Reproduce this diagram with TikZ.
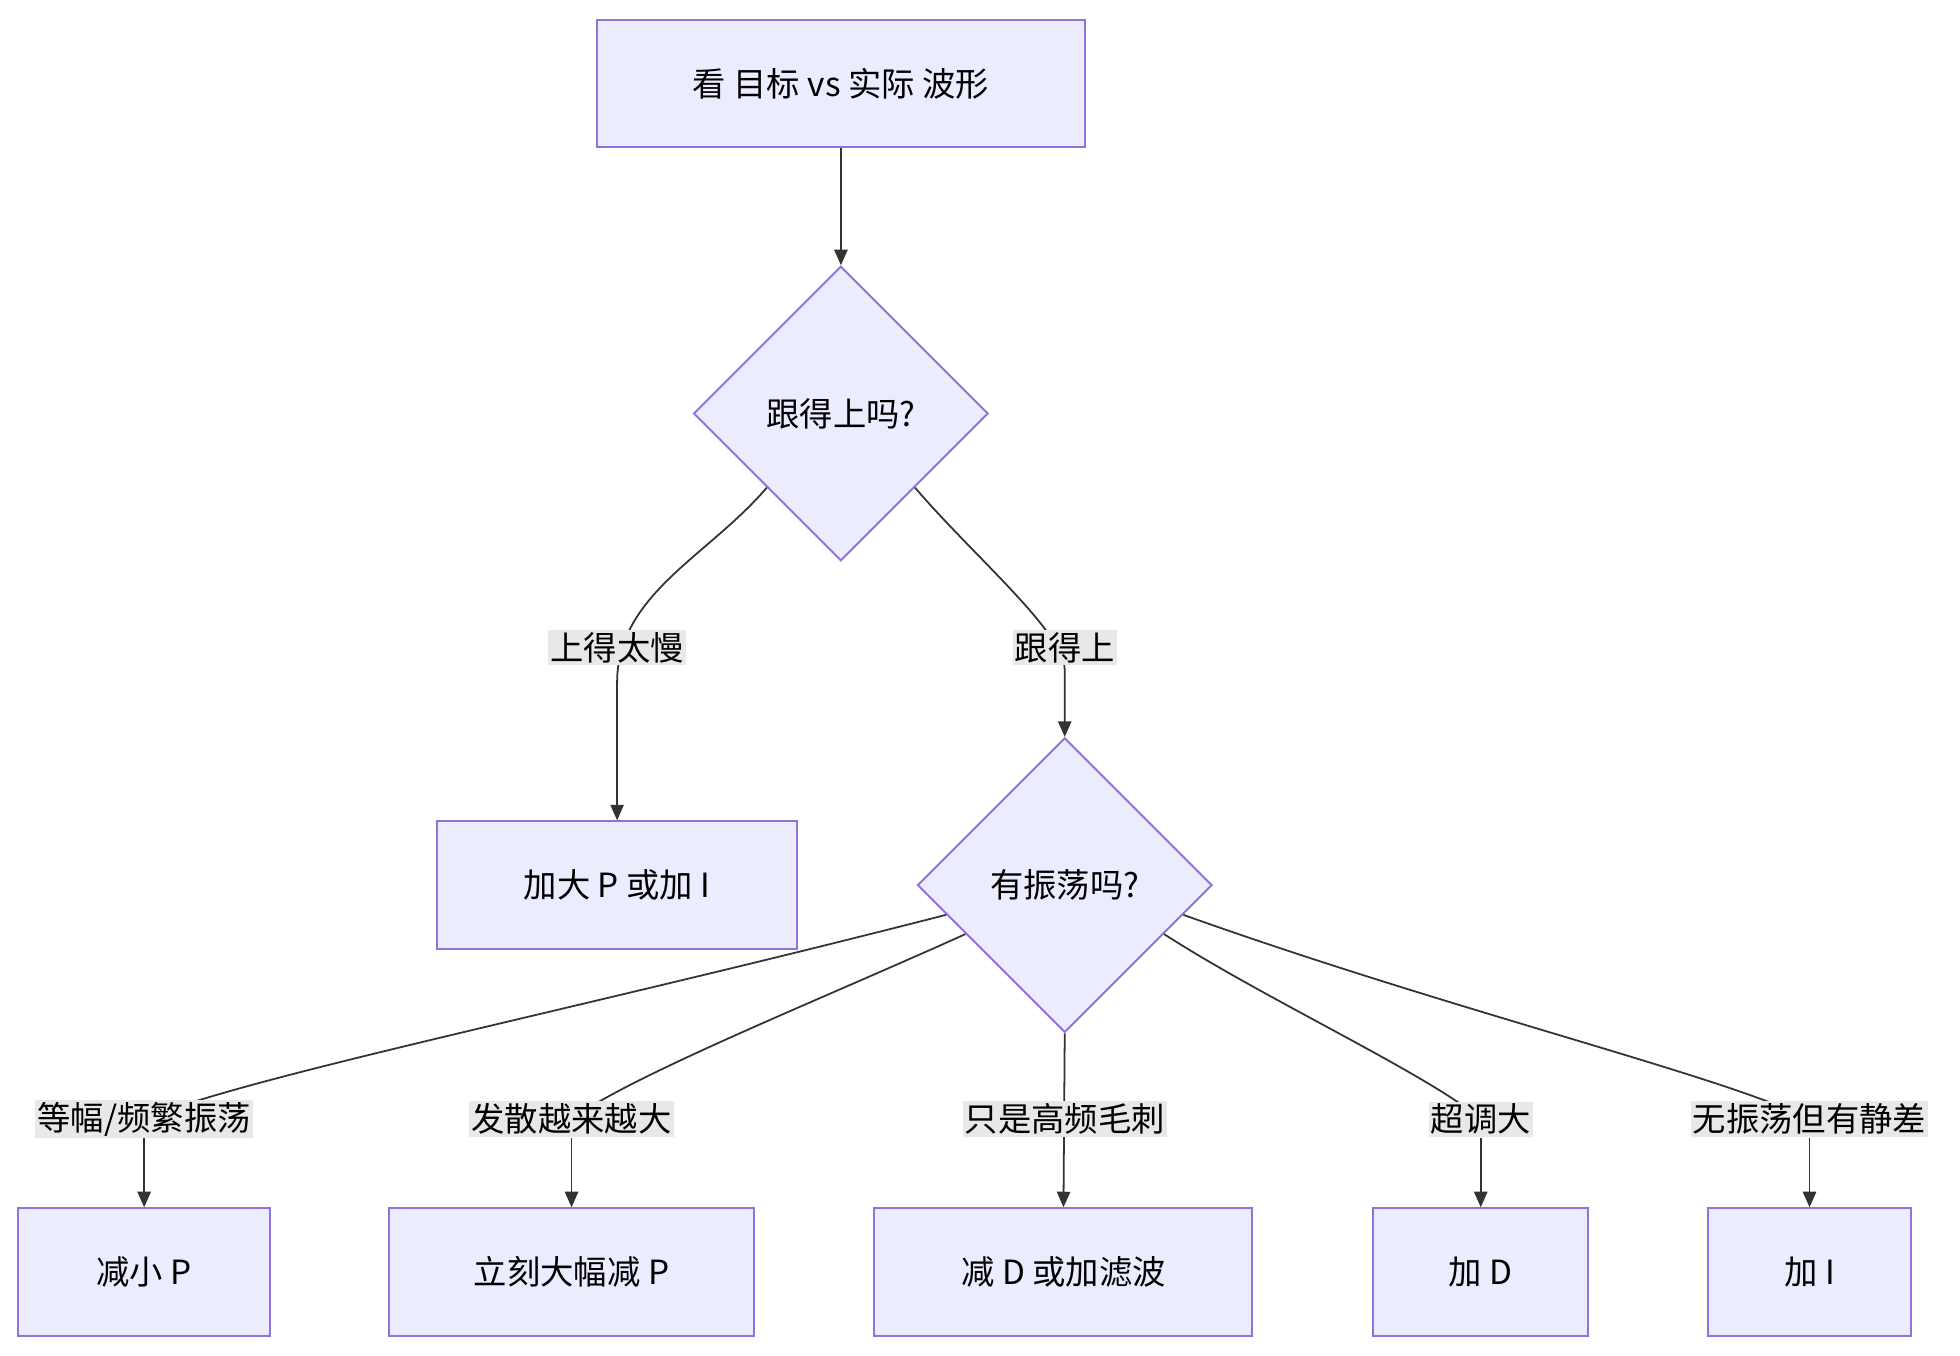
\documentclass[tikz,border=0pt]{standalone}
\usepackage{fontspec}
\setmainfont{Noto Sans CJK SC}
\usetikzlibrary{shapes.geometric,calc,arrows.meta}
\definecolor{boxfill}{HTML}{ECECFF}
\definecolor{boxline}{HTML}{9370DB}
\definecolor{lblfill}{HTML}{E8E8E8}
\definecolor{edgeline}{HTML}{333333}
\begin{document}
\begin{tikzpicture}[x=0.02cm,y=-0.02cm,
  font=\fontsize{15}{18}\selectfont,
  boxnode/.style={rectangle, draw=boxline, fill=boxfill, line width=0.9pt, minimum height=2.02cm, inner sep=0pt},
  decnode/.style={diamond, draw=boxline, fill=boxfill, line width=0.9pt, minimum width=4.66cm, minimum height=4.66cm, inner sep=0pt},
  lblnode/.style={fill=lblfill, inner sep=1pt},
  edge/.style={draw=edgeline, line width=0.8pt, -{Triangle[length=7pt,width=6pt]}},
  plain/.style={draw=edgeline, line width=0.8pt},
]
\useasboundingbox (0,0) rectangle (1550,1072);
%Nodes
\node[boxnode, minimum width=7.72cm] (look) at (665,66) {看 目标 vs 实际 波形};
\node[decnode] (keep) at (665,327) {跟得上吗?};
\node[boxnode, minimum width=5.7cm] (more) at (488,700) {加大 P 或加 I};
\node[decnode] (osc) at (842,700) {有振荡吗?};
\node[boxnode, minimum width=3.98cm] (lessp) at (114,1006) {减小 P};
\node[boxnode, minimum width=5.78cm] (cutp) at (452,1006) {立刻大幅减 P};
\node[boxnode, minimum width=5.98cm] (filt) at (841,1006) {减 D 或加滤波};
\node[boxnode, minimum width=3.4cm] (addd) at (1171,1006) {加 D};
\node[boxnode, minimum width=3.2cm] (addi) at (1431,1006) {加 I};

%Lines
\draw[edge] (look.south) -- (keep.north);
\coordinate (k1) at ($(keep.west)!0.5!(keep.south)$);
\coordinate (k2) at ($(keep.east)!0.5!(keep.south)$);
\draw[edge] (k1) .. controls (560,440) and (488,470) .. (488,540) -- (more.north);
\draw[edge] (k2) .. controls (770,440) and (842,500) .. (842,530) -- (osc.north);
\node[lblnode] (slow) at (488,512) {上得太慢};
\node[lblnode] (fast) at (842,512) {跟得上};

\coordinate (o1) at ($(osc.west)!0.2!(osc.south)$);
\coordinate (o2) at ($(osc.west)!0.33!(osc.south)$);
\coordinate (o3) at ($(osc.east)!0.33!(osc.south)$);
\coordinate (o4) at ($(osc.east)!0.2!(osc.south)$);
\draw[plain] (o1) .. controls (450,800) and (200,850) .. (114,885);
\draw[plain] (o2) .. controls (650,790) and (500,850) .. (452,885);
\draw[plain] (o3) .. controls (1000,790) and (1130,850) .. (1171,885);
\draw[plain] (o4) .. controls (1150,800) and (1360,850) .. (1431,885);
\draw[edge] (osc.south) -- (filt.north);
\foreach \x/\b in {114/lessp,452/cutp,1171/addd,1431/addi}
  \draw[edge] (\x,900) .. controls (\x,915) and (\x,915) .. (\b.north);
\node[lblnode] (l1) at (114,885) {等幅/频繁振荡};
\node[lblnode] (l2) at (452,885) {发散越来越大};
\node[lblnode] (l3) at (842,885) {只是高频毛刺};
\node[lblnode] (l4) at (1171,885) {超调大};
\node[lblnode] (l5) at (1431,885) {无振荡但有静差};
\end{tikzpicture}
\end{document}
